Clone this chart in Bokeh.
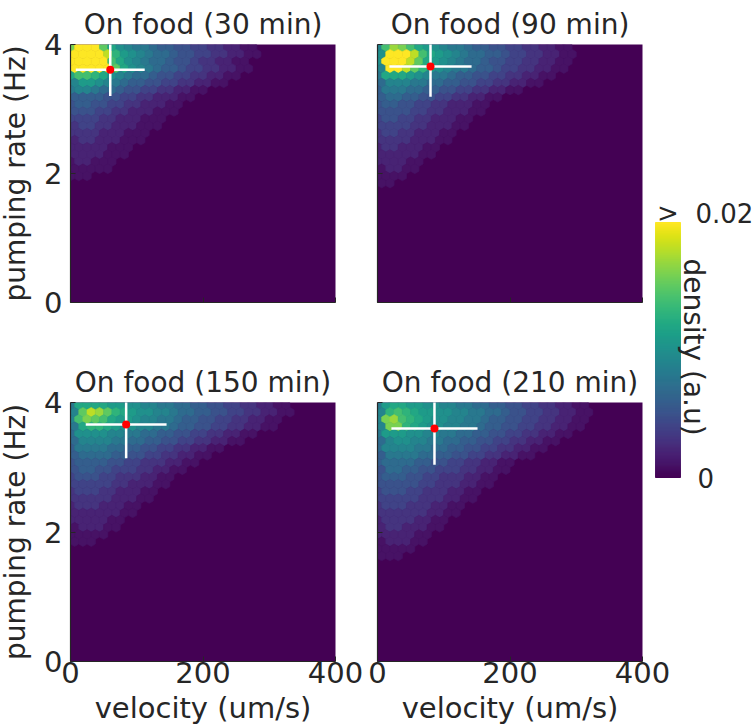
import numpy as np
from bokeh.plotting import figure
from bokeh.layouts import row, column
from bokeh.models import ColumnDataSource, FixedTicker, Label, CustomJSTickFormatter
from bokeh.transform import linear_cmap
from bokeh.palettes import Viridis256
from bokeh.embed import file_html
from bokeh.resources import INLINE

# ---------------- data ----------------
TITLES = ["On food (30 min)", "On food (90 min)", "On food (150 min)", "On food (210 min)"]
X_TICKS = [0, 200, 400]
Y_TICKS = [0, 2, 4]
X_LABEL = "velocity (um/s)"
Y_LABEL = "pumping rate (Hz)"
CBAR_LABEL = "density (a.u)"
CBAR_LOW, CBAR_HIGH = 0.0, 0.02

HEX_DX = 12.5     # hex bin width (um/s)
HEX_DY = 0.111    # hex row spacing (Hz)
HEX_TOP = 3.96    # centre of the top hex row (Hz)

# density x 1e-3 per hex, rows from the top (pumping ~3.96 downwards), columns from velocity 0
DENS_30 = [
    [16, 20, 24, 24, 15, 12, 10, 9, 8, 8, 7, 6, 6, 5, 5, 4, 4, 3, 3, 2, 2, 1, 1],
    [22, 24, 24, 24, 18, 13, 11, 10, 9, 8, 7, 7, 6, 5, 5, 4, 4, 3, 3, 2, 2, 1, 1],
    [24, 24, 24, 24, 20, 14, 12, 10, 9, 8, 7, 7, 6, 5, 5, 4, 3, 3, 2, 2, 1, 1],
    [24, 24, 24, 24, 21, 15, 12, 10, 9, 8, 7, 6, 6, 5, 4, 4, 3, 3, 2, 2, 1, 1],
    [12, 14, 14, 13, 12, 10, 9, 8, 7, 7, 6, 5, 5, 4, 4, 3, 3, 2, 2, 1, 1],
    [9, 11, 11, 10, 9, 8, 7, 6, 6, 5, 5, 4, 4, 3, 3, 2, 2, 1, 1],
    [8, 9, 9, 8, 7, 7, 6, 5, 5, 4, 4, 3, 3, 2, 2, 1, 1],
    [6, 6, 6, 6, 5, 5, 4, 4, 3, 3, 2, 2, 2, 1, 1],
    [5, 6, 6, 5, 5, 4, 4, 3, 3, 2, 2, 2, 1, 1],
    [5, 5, 5, 4, 4, 3, 3, 2, 2, 2, 1, 1, 1],
    [4, 4, 4, 4, 3, 3, 2, 2, 2, 1, 1, 1],
    [3, 4, 4, 3, 3, 2, 2, 2, 1, 1, 1],
    [3, 3, 3, 3, 2, 2, 2, 1, 1, 1],
    [2, 3, 3, 2, 2, 2, 1, 1, 1],
    [2, 2, 2, 2, 2, 1, 1, 1],
    [2, 2, 2, 2, 1, 1, 1],
    [1, 2, 2, 1, 1, 1],
    [1, 1, 1, 1, 1],
    [1, 1, 1],
]
DENS_90 = [
    [9, 14, 17, 16, 14, 12, 11, 10, 9, 8, 8, 7, 6, 6, 5, 5, 4, 4, 3, 3, 2, 2, 1, 1],
    [10, 22, 24, 22, 18, 14, 12, 11, 10, 9, 8, 7, 7, 6, 6, 5, 4, 4, 3, 3, 2, 2, 1, 1],
    [10, 24, 24, 22, 18, 15, 12, 11, 10, 9, 8, 7, 7, 6, 5, 5, 4, 4, 3, 3, 2, 2, 1, 1],
    [9, 22, 22, 18, 15, 13, 11, 10, 9, 8, 8, 7, 6, 6, 5, 4, 4, 3, 3, 2, 2, 1, 1],
    [8, 12, 12, 12, 11, 10, 9, 8, 8, 7, 6, 6, 5, 5, 4, 4, 3, 3, 2, 2, 1, 1],
    [7, 9, 9, 9, 8, 8, 7, 7, 6, 6, 5, 5, 4, 4, 3, 3, 2, 2, 1, 1],
    [6, 8, 8, 8, 7, 7, 6, 6, 5, 5, 4, 4, 3, 3, 2, 2, 1, 1],
    [6, 7, 7, 6, 6, 5, 5, 4, 4, 3, 3, 2, 2, 1, 1],
    [5, 6, 6, 5, 5, 4, 4, 3, 3, 2, 2, 2, 1, 1],
    [5, 5, 5, 5, 4, 4, 3, 3, 2, 2, 2, 1, 1],
    [4, 5, 5, 4, 4, 3, 3, 2, 2, 2, 1, 1],
    [4, 4, 4, 4, 3, 3, 2, 2, 2, 1, 1],
    [3, 4, 4, 3, 3, 2, 2, 2, 1, 1],
    [3, 3, 3, 3, 2, 2, 2, 1, 1],
    [2, 3, 3, 2, 2, 2, 1, 1],
    [2, 2, 2, 2, 2, 1, 1],
    [2, 2, 2, 2, 1, 1],
    [1, 2, 2, 1, 1],
    [1, 1, 1, 1],
    [1, 1],
]
DENS_150 = [
    [8, 12, 12, 12, 12, 11, 11, 10, 10, 9, 9, 8, 8, 7, 7, 6, 6, 5, 5, 4, 4, 3, 3, 2, 2, 1, 1],
    [9, 15, 18, 17, 15, 13, 12, 11, 10, 10, 9, 9, 8, 7, 7, 6, 6, 5, 5, 4, 4, 3, 3, 2, 2, 1, 1],
    [9, 14, 16, 15, 14, 12, 11, 11, 10, 9, 9, 8, 8, 7, 6, 6, 5, 5, 4, 4, 3, 3, 2, 2, 1, 1],
    [8, 12, 13, 13, 12, 11, 10, 10, 9, 9, 8, 8, 7, 6, 6, 5, 5, 4, 4, 3, 3, 2, 2, 1, 1],
    [7, 10, 10, 10, 10, 9, 9, 8, 8, 7, 7, 6, 6, 5, 5, 4, 4, 3, 3, 2, 2, 1, 1],
    [7, 9, 9, 9, 9, 8, 8, 7, 7, 6, 6, 5, 5, 4, 4, 3, 3, 2, 2, 1, 1],
    [6, 8, 8, 8, 8, 7, 7, 6, 6, 5, 5, 4, 4, 3, 3, 2, 2, 1, 1],
    [6, 7, 7, 7, 7, 6, 6, 5, 5, 4, 4, 3, 3, 2, 2, 1, 1],
    [5, 6, 6, 6, 6, 5, 5, 4, 4, 3, 3, 3, 2, 2, 1, 1],
    [5, 6, 6, 5, 5, 4, 4, 4, 3, 3, 2, 2, 1, 1],
    [4, 5, 5, 5, 4, 4, 3, 3, 3, 2, 2, 1, 1],
    [4, 4, 4, 4, 4, 3, 3, 2, 2, 2, 1, 1],
    [3, 4, 4, 4, 3, 3, 2, 2, 2, 1, 1],
    [3, 3, 3, 3, 3, 2, 2, 2, 1, 1],
    [2, 3, 3, 3, 2, 2, 2, 1, 1],
    [2, 2, 2, 2, 2, 2, 1, 1],
    [2, 2, 2, 2, 2, 1, 1],
    [1, 2, 2, 2, 1, 1],
    [1, 1, 1, 1, 1],
    [1, 1, 1],
]
DENS_210 = [
    [8, 11, 12, 12, 11, 11, 10, 10, 9, 9, 8, 8, 7, 7, 6, 6, 5, 5, 4, 4, 3, 3, 2, 2, 1, 1],
    [9, 13, 14, 13, 12, 11, 11, 10, 10, 9, 9, 8, 8, 7, 7, 6, 5, 5, 4, 4, 3, 3, 2, 2, 1, 1],
    [9, 16, 17, 14, 13, 12, 11, 10, 10, 9, 9, 8, 8, 7, 6, 6, 5, 5, 4, 4, 3, 3, 2, 2, 1, 1],
    [9, 16, 16, 13, 12, 11, 10, 10, 9, 9, 8, 8, 7, 6, 6, 5, 5, 4, 4, 3, 3, 2, 2, 1, 1],
    [8, 11, 11, 11, 10, 10, 9, 9, 8, 8, 7, 7, 6, 6, 5, 5, 4, 4, 3, 3, 2, 2, 1, 1],
    [7, 9, 10, 10, 9, 9, 8, 8, 7, 7, 6, 6, 5, 5, 4, 4, 3, 3, 2, 2, 1, 1],
    [7, 9, 9, 9, 9, 8, 8, 7, 7, 6, 6, 5, 5, 4, 4, 3, 3, 2, 2, 1, 1],
    [6, 8, 8, 8, 8, 7, 7, 6, 6, 5, 5, 4, 4, 3, 3, 2, 2, 1, 1],
    [6, 7, 7, 7, 7, 6, 6, 5, 5, 4, 4, 3, 3, 2, 2, 1, 1],
    [5, 7, 7, 6, 6, 5, 5, 4, 4, 4, 3, 3, 2, 2, 1, 1],
    [5, 6, 6, 6, 5, 5, 4, 4, 3, 3, 3, 2, 2, 1, 1],
    [5, 5, 5, 5, 5, 4, 4, 3, 3, 3, 2, 2, 1, 1],
    [4, 5, 5, 5, 4, 4, 3, 3, 3, 2, 2, 1, 1],
    [4, 4, 4, 4, 4, 3, 3, 3, 2, 2, 1, 1],
    [3, 4, 4, 4, 3, 3, 3, 2, 2, 1, 1],
    [3, 3, 3, 3, 3, 3, 2, 2, 1, 1],
    [2, 3, 3, 3, 3, 2, 2, 1, 1],
    [2, 3, 3, 2, 2, 2, 1, 1],
    [2, 2, 2, 2, 2, 1, 1],
    [1, 2, 2, 2, 1, 1],
    [1, 1, 1, 1, 1],
    [1, 1, 1],
]
DENSITIES = [DENS_30, DENS_90, DENS_150, DENS_210]

MEAN_VEL = [60, 80, 84, 86]
SD_VEL = [52, 62, 61, 65]
MEAN_PUMP = [3.61, 3.66, 3.66, 3.60]
SD_PUMP = [0.41, 0.47, 0.52, 0.56]

# ---------------- styling / layout ----------------
FONT = "DejaVu Sans"
TXT = "#262626"
FS_T = "28px"
FS_H = "29px"
FS_V = "28px"
HEX_SIZE = 9.7

STRIP_W = 36                 # strip holding the rotated y labels
LEFT_B = 34                  # left border of the left panels (tick labels)
FRAME_W = 265
TOP_H, BOT_H = 358, 369      # heights of the two rows
TOP_B, FRAME_H1, FRAME_H2 = 44, 258, 259


def hex_source(grid):
    xs, ys, ds = [], [], []
    for r, vals in enumerate(grid):
        for c, v in enumerate(vals):
            if v <= 0:
                continue
            xs.append(c * HEX_DX + (r % 2) * HEX_DX / 2)
            ys.append(HEX_TOP - r * HEX_DY)
            ds.append(v / 1000.0)
    return ColumnDataSource(dict(x=xs, y=ys, d=ds))


def make_panel(i, width, height, left, right, top, bottom, show_xlab, show_yticks):
    p = figure(width=width, height=height, x_range=(0, 400), y_range=(0, 4),
               output_backend="svg", toolbar_location=None,
               min_border_left=left, min_border_right=right,
               min_border_top=top, min_border_bottom=bottom)
    p.background_fill_color = Viridis256[0]
    p.border_fill_color = "white"
    p.outline_line_color = None
    p.grid.visible = False

    p.title.text = TITLES[i]
    p.title.align = "center"
    p.title.text_font = FONT
    p.title.text_font_size = FS_T
    p.title.text_font_style = "normal"
    p.title.text_color = TXT
    p.title.standoff = 7

    cmap = linear_cmap("d", Viridis256, CBAR_LOW, CBAR_HIGH)
    p.scatter("x", "y", source=hex_source(DENSITIES[i]), marker="hex", size=HEX_SIZE,
              angle=np.pi / 6, fill_color=cmap, line_color=cmap, line_width=0.6)

    mv, sv, mp, sp = MEAN_VEL[i], SD_VEL[i], MEAN_PUMP[i], SD_PUMP[i]
    p.segment(x0=[mv - sv], y0=[mp], x1=[mv + sv], y1=[mp], line_color="white", line_width=2.5)
    p.segment(x0=[mv], y0=[mp - sp], x1=[mv], y1=[mp + sp], line_color="white", line_width=2.5)
    p.scatter(x=[mv], y=[mp], size=8, fill_color="red", line_color=None)

    for ax in (p.xaxis[0], p.yaxis[0]):
        ax.axis_line_color = TXT
        ax.axis_line_width = 1.2
        ax.major_tick_line_color = TXT
        ax.major_tick_in = 5
        ax.major_tick_out = 0
        ax.minor_tick_line_color = None
        ax.major_label_text_font = FONT
        ax.major_label_text_font_size = FS_H
        ax.major_label_text_color = TXT
        ax.axis_label_text_font = FONT
        ax.axis_label_text_font_style = "normal"
        ax.axis_label_text_color = TXT
        ax.axis_label_text_font_size = FS_H
    p.xaxis.ticker = FixedTicker(ticks=X_TICKS)
    p.yaxis.ticker = FixedTicker(ticks=Y_TICKS)
    p.xaxis.major_label_standoff = 0
    p.yaxis.major_label_standoff = 8
    if show_xlab:
        p.xaxis.axis_label = X_LABEL
        p.xaxis.axis_label_standoff = 5
    else:
        p.xaxis.formatter = CustomJSTickFormatter(code="return ''")
    if not show_yticks:
        p.yaxis.formatter = CustomJSTickFormatter(code="return ''")
        p.yaxis.major_label_standoff = 0
    return p


p1 = make_panel(0, LEFT_B + FRAME_W + 32, TOP_H, LEFT_B, 32, TOP_B, TOP_H - TOP_B - FRAME_H1, False, True)
p2 = make_panel(1, 10 + FRAME_W + 30, TOP_H, 10, 30, TOP_B, TOP_H - TOP_B - FRAME_H1, False, False)
p3 = make_panel(2, LEFT_B + FRAME_W + 32, BOT_H, LEFT_B, 32, TOP_B, BOT_H - TOP_B - FRAME_H2, True, True)
p4 = make_panel(3, 10 + FRAME_W + 30, BOT_H, 10, 30, TOP_B, BOT_H - TOP_B - FRAME_H2, True, False)

# ---------------- strip with the rotated y-axis labels ----------------
H = TOP_H + BOT_H
ys = figure(width=STRIP_W, height=H, title=None, x_range=(0, STRIP_W), y_range=(0, H),
            output_backend="svg", toolbar_location=None,
            min_border_left=0, min_border_right=0, min_border_top=0, min_border_bottom=0,
            x_axis_location=None, y_axis_location=None)
ys.background_fill_color = None
ys.border_fill_color = None
ys.outline_line_color = None
ys.grid.visible = False
for yc in (H - (TOP_B + FRAME_H1 / 2), H - (TOP_H + TOP_B + FRAME_H2 / 2)):
    ys.add_layout(Label(x=STRIP_W / 2, y=yc, text=Y_LABEL, angle=np.pi / 2, x_offset=-3,
                        text_align="center", text_baseline="middle",
                        text_font=FONT, text_font_size=FS_V, text_color=TXT))

# ---------------- colour bar (own figure, bar spans 0..1 in x) ----------------
CB_W, CB_H = 114, H
BAR_L, BAR_W = 13, 25          # px from figure left
BAR_TOP, BAR_BOT = 222, 477    # px from figure top
span = CBAR_HIGH - CBAR_LOW
px_y = span / (BAR_BOT - BAR_TOP)
px_x = 1.0 / BAR_W
cb = figure(width=CB_W, height=CB_H, title=None,
            x_range=(-BAR_L * px_x, (CB_W - BAR_L) * px_x),
            y_range=(CBAR_LOW - (CB_H - BAR_BOT) * px_y, CBAR_HIGH + BAR_TOP * px_y),
            output_backend="svg", toolbar_location=None,
            min_border_left=0, min_border_right=0, min_border_top=0, min_border_bottom=0,
            x_axis_location=None, y_axis_location=None)
cb.background_fill_color = None
cb.border_fill_color = None
cb.outline_line_color = None
cb.grid.visible = False
n = len(Viridis256)
step = span / n
cb.quad(left=0, right=1, bottom=[CBAR_LOW + k * step for k in range(n)],
        top=[CBAR_LOW + (k + 1) * step for k in range(n)],
        fill_color=list(Viridis256), line_color=list(Viridis256), line_width=1)
lab_kw = dict(text_font=FONT, text_color=TXT)
cb.add_layout(Label(x=1, y=CBAR_HIGH, text=f"{CBAR_HIGH:g}", x_offset=15, y_offset=10,
                    text_align="left", text_baseline="middle", text_font_size="26px", **lab_kw))
cb.add_layout(Label(x=0.5, y=CBAR_HIGH, text=">", y_offset=10,
                    text_align="center", text_baseline="middle", text_font_size="26px", **lab_kw))
cb.add_layout(Label(x=1, y=CBAR_LOW, text=f"{CBAR_LOW:g}", x_offset=17,
                    text_align="left", text_baseline="middle", text_font_size="26px", **lab_kw))
cb.add_layout(Label(x=1, y=(CBAR_LOW + CBAR_HIGH) / 2, text=CBAR_LABEL, x_offset=13, y_offset=3,
                    angle=-np.pi / 2, text_align="center", text_baseline="middle",
                    text_font_size=FS_V, **lab_kw))
cb.margin = (0, 0, 0, -30)

layout = row(ys, column(p1, p3), column(p2, p4), cb)
open("out.html", "w").write(file_html(layout, INLINE))
